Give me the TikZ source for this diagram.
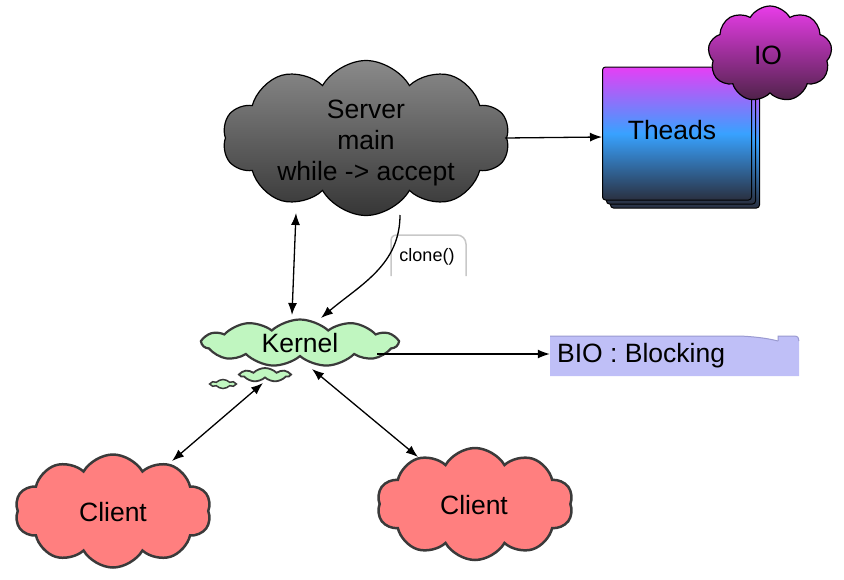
\documentclass[tikz,border=0pt]{standalone}
\usepackage{fontspec}
\setmainfont{Liberation Sans}
\usetikzlibrary{shapes.symbols,arrows.meta,calc}
\definecolor{srvtop}{HTML}{8A8A8A}
\definecolor{srvbot}{HTML}{363636}
\definecolor{krnfill}{HTML}{C0F6C0}
\definecolor{edgegray}{HTML}{3A3A3A}
\definecolor{cltfill}{HTML}{FF7F7F}
\definecolor{biofill}{HTML}{BFBFF7}
\definecolor{biotop}{HTML}{9A9AD0}
\definecolor{iotop}{HTML}{E83CE8}
\definecolor{iobot}{HTML}{4E2248}
\definecolor{thtop}{HTML}{E63EF5}
\definecolor{thmid}{HTML}{38A2FF}
\definecolor{thbot}{HTML}{2A3040}
\definecolor{notegray}{HTML}{C8C8C8}
\begin{document}
\begin{tikzpicture}[x=1pt,y=-1pt,
  cloudbox/.style={cloud, cloud puffs=#1, cloud puff arc=120, cloud ignores aspect, inner sep=0pt},
  txt/.style={inner sep=0pt, font=\fontsize{26.5}{31}\selectfont, align=center},
  arrone/.style={line width=1.3pt, -{Latex[length=12pt,width=9pt]}},
  arrtwo/.style={line width=1.3pt, {Latex[length=12pt,width=9pt]}-{Latex[length=12pt,width=9pt]}},
  thdbox/.style={draw=black, line width=1pt, rounded corners=3pt, top color=thtop, bottom color=thbot, middle color=thmid, minimum width=149pt, minimum height=133pt, inner sep=0pt}
]
\useasboundingbox (0,0) rectangle (844,579);

% Threads stack
\node[thdbox] (thd3) at (685,141.5) {};
\node[thdbox] (thd2) at (681,137.5) {};
\node[thdbox] (thd) at (677,133.5) {};
\node[txt] (thdt) at (672,130) {Theads};

% IO cloud
\node[cloudbox=9, draw=black, line width=1.2pt, top color=iotop, bottom color=iobot, minimum width=124pt, minimum height=96pt] (io) at (770,54) {};
\node[txt] (iot) at (768,55) {IO};

% Server cloud
\node[cloudbox=10, draw=black, line width=1.2pt, top color=srvtop, bottom color=srvbot, minimum width=287pt, minimum height=155pt] (srv) at (366,138) {};
\node[txt] (srvt) at (366,143) {Server\\main\\while -> accept};

% Kernel cloud and bubbles
\node[cloudbox=11, cloud puff arc=85, draw=edgegray, line width=2.2pt, fill=krnfill, minimum width=195pt, minimum height=47pt] (krn) at (300,343) {};
\node[txt] (krnt) at (300,343) {Kernel};
\node[cloudbox=7, cloud puff arc=90, draw=edgegray, line width=1.8pt, fill=krnfill, minimum width=49pt, minimum height=14pt] (bub1) at (265,375) {};
\node[cloudbox=6, cloud puff arc=90, draw=edgegray, line width=1.5pt, fill=krnfill, minimum width=24pt, minimum height=9pt] (bub2) at (223,384) {};

% Clients
\node[cloudbox=10, draw=edgegray, line width=2.5pt, fill=cltfill, minimum width=196pt, minimum height=113pt] (cl1) at (113,511) {};
\node[txt] (cl1t) at (113,512) {Client};
\node[cloudbox=10, draw=edgegray, line width=2.5pt, fill=cltfill, minimum width=196pt, minimum height=112pt] (cl2) at (475,504) {};
\node[txt] (cl2t) at (474,505) {Client};

% BIO note
\fill[biofill] (550,376) -- (550,336) -- (740,336) .. controls (760,337) and (770,339) .. (778,341) -- (778,336) -- (794,336) .. controls (798,336) and (799,338) .. (799,341) -- (799,376) -- cycle;
\draw[biotop, line width=1pt] (550,336) -- (740,336) .. controls (760,337) and (770,339) .. (778,341);
\draw[biotop, line width=1pt] (778,341) -- (778,336) -- (794,336) .. controls (798,336) and (799,338) .. (799,341);
\node[inner sep=0pt, minimum width=249pt, minimum height=40pt] (bio) at (674.5,356) {};
\node[txt, anchor=west] (biot) at (557,356) {BIO : Blocking};

% clone() note
\draw[notegray, line width=1.5pt, fill=white] (391,276) -- (391,241) .. controls (391,237) and (393,235) .. (397,235) -- (457,235) .. controls (462,235) and (466,239) .. (466,244) -- (466,276);
\node[inner sep=0pt, font=\fontsize{18}{20}\selectfont] (clone) at (427,257) {clone()};

% Connectors
\draw[arrone] ($(srv.center)+(139,0)$) -- ($(thd.west)+(0,3.5)$);
\draw[arrtwo] ($(srv.center)+(-70,75)$) -- ($(krn.center)+(-8,-28)$);
\draw[arrone] ($(srv.center)+(34,77)$) .. controls ($(srv.center)+(34,127)$) and ($(srv.center)+(-6,147)$) .. ($(krn.center)+(21,-25)$);
\draw[arrone] ($(krn.center)+(77,11)$) -- ($(bio.west)+(0,-2)$);
\draw[arrtwo] ($(bub1.center)+(-2,8)$) -- ($(cl1.center)+(59,-50)$);
\draw[arrtwo] ($(krn.center)+(12,26)$) -- ($(cl2.center)+(-57,-47)$);
\end{tikzpicture}
\end{document}
